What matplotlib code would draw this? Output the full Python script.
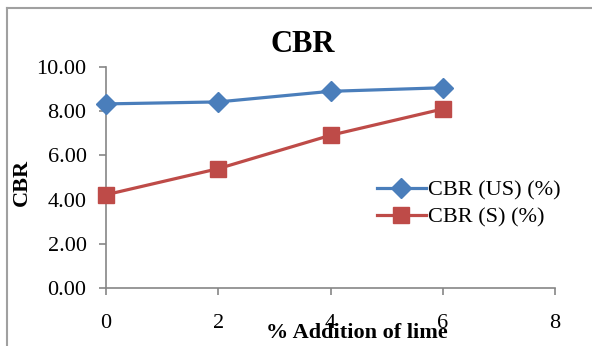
import matplotlib.pyplot as plt
from matplotlib.lines import Line2D

lime = [0, 2, 4, 6]
cbr_us = [8.33, 8.42, 8.90, 9.06]
cbr_s = [4.22, 5.40, 6.91, 8.10]
yticks = [0, 2, 4, 6, 8, 10]
xticks = [0, 2, 4, 6, 8]

plt.rcParams['font.family'] = ['Liberation Serif', 'DejaVu Serif']

fig = plt.figure(figsize=(5.92, 3.46), dpi=100)
ax = fig.add_axes([106 / 592, 1 - 288 / 346, (555 - 106) / 592, (288 - 67) / 346])

ax.plot(lime, cbr_us, color='#4a7ebb', lw=2.3, marker='D', ms=10,
        label='CBR (US) (%)', clip_on=False, zorder=3)
ax.plot(lime, cbr_s, color='#be4b48', lw=2.3, marker='s', ms=12,
        label='CBR (S) (%)', clip_on=False, zorder=3)

ax.set_xlim(0, 8)
ax.set_ylim(0, 10)
ax.set_xticks(xticks)
ax.set_yticks(yticks)
ax.set_yticklabels([f'{v:.2f}' for v in yticks])
ax.tick_params(axis='both', labelsize=16, color='#868686', length=5, width=1.2)
ax.tick_params(axis='x', pad=14)
ax.tick_params(axis='y', pad=9)
for s in ['top', 'right']:
    ax.spines[s].set_visible(False)
for s in ['left', 'bottom']:
    ax.spines[s].set_color('#868686')
    ax.spines[s].set_linewidth(1.2)

fig.text(303 / 592, 1 - 45 / 346, 'CBR', ha='center', va='center',
         fontsize=22, fontweight='bold')
fig.text(22 / 592, 1 - 182 / 346, 'CBR', ha='center', va='center',
         rotation=90, fontsize=16, fontweight='bold')
fig.text(357 / 592, 1 - 333 / 346, '% Addition of lime', ha='center', va='center',
         fontsize=16, fontweight='bold')

ax.legend(loc='center left', bbox_to_anchor=(357 / 592, 1 - 204 / 346),
          bbox_transform=fig.transFigure, frameon=False, fontsize=16,
          handlelength=2.2, handletextpad=0.1, labelspacing=0.3)

# chart frame (left and top edges visible)
fig.add_artist(Line2D([7 / 592, 7 / 592], [0, 1 - 8 / 346], color='#a0a0a0', lw=1.5))
fig.add_artist(Line2D([7 / 592, 1], [1 - 8 / 346, 1 - 8 / 346], color='#a0a0a0', lw=1.5))

fig.savefig('out.png', dpi=100)
